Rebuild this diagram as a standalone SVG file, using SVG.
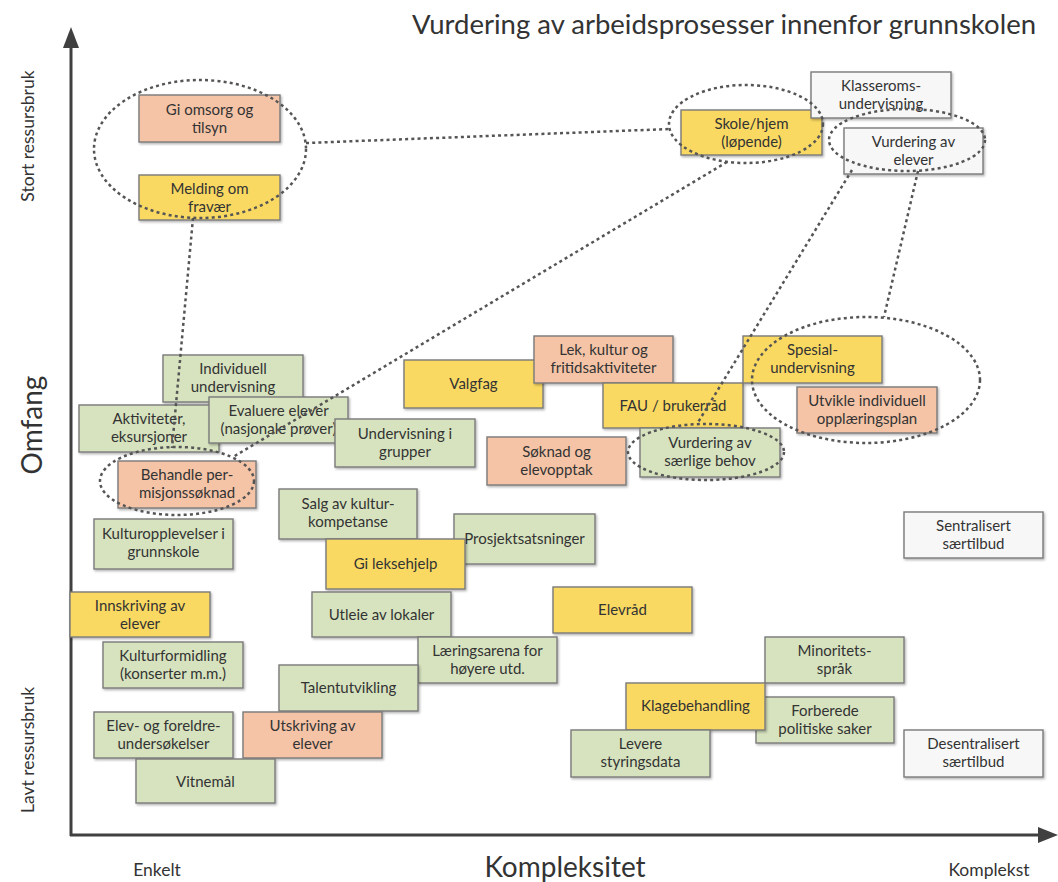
<svg xmlns="http://www.w3.org/2000/svg" width="1058" height="882" viewBox="0 0 1058 882">
  <style>
    text { font-family: Lato, "Open Sans", "Liberation Sans", sans-serif; fill: #333333; }
    .box text { font-size: 15px; text-anchor: middle; }
    .box rect { stroke: #7a7a7a; stroke-width: 1.4; filter: url(#shadow); }
    .orange rect { fill: #f5c4a7; }
    .yellow rect { fill: #fad962; }
    .green rect { fill: #d7e3bf; }
    .white rect { fill: #f7f7f7; }
    .dot { fill: none; stroke: #555555; stroke-width: 2.5; stroke-dasharray: 3 3.2; }
    .axis { stroke: #404040; stroke-width: 3; fill: none; }
    .big { font-size: 28px; }
    .small { font-size: 17.5px; }
  </style>
  <defs>
    <filter id="shadow" x="-10%" y="-10%" width="125%" height="135%">
      <feDropShadow dx="1.2" dy="1.5" stdDeviation="1" flood-color="#000" flood-opacity="0.3"/>
    </filter>
  </defs>

  <rect width="1058" height="882" fill="#ffffff"/>

  <!-- title -->
  <text x="1036" y="34" font-size="27.5" text-anchor="end" fill="#262626">Vurdering av arbeidsprosesser innenfor grunnskolen</text>

  <!-- axes -->
  <g id="axes">
    <line class="axis" x1="71" y1="836" x2="71" y2="44"/>
    <polygon points="71,27 63,48 79,48" fill="#404040"/>
    <line class="axis" x1="70" y1="835" x2="1042" y2="835"/>
    <polygon points="1058,835 1038,827 1038,843" fill="#404040"/>
    <text class="small" transform="translate(34,136) rotate(-90)" text-anchor="middle">Stort ressursbruk</text>
    <text class="big" transform="translate(42,425) rotate(-90)" text-anchor="middle" font-size="31">Omfang</text>
    <text class="small" transform="translate(34,750) rotate(-90)" text-anchor="middle">Lavt ressursbruk</text>
    <text class="small" x="157" y="876" text-anchor="middle">Enkelt</text>
    <text class="big" x="565" y="877" text-anchor="middle">Kompleksitet</text>
    <text class="small" x="989" y="876" text-anchor="middle">Komplekst</text>
  </g>

  <!-- process boxes -->
  <g id="omsorg" class="box orange"><rect x="139" y="95" width="141" height="47"/><text x="209.5" y="115">Gi omsorg og</text><text x="209.5" y="133">tilsyn</text></g>
  <g id="melding" class="box yellow"><rect x="139" y="175" width="141" height="45"/><text x="209.5" y="194">Melding om</text><text x="209.5" y="212">fravær</text></g>
  <g id="skole-hjem" class="box yellow"><rect x="681" y="110" width="141" height="45"/><text x="751.5" y="129">Skole/hjem</text><text x="751.5" y="147">(løpende)</text></g>
  <g id="klasserom" class="box white"><rect x="811" y="72" width="140" height="46"/><text x="881" y="91">Klasseroms-</text><text x="881" y="109">undervisning</text></g>
  <g id="vurdering-elever" class="box white"><rect x="844" y="128" width="139" height="46"/><text x="913.5" y="147">Vurdering av</text><text x="913.5" y="165">elever</text></g>

  <g id="individuell" class="box green"><rect x="163" y="355" width="140" height="47"/><text x="233" y="374">Individuell</text><text x="233" y="392">undervisning</text></g>
  <g id="aktiviteter" class="box green"><rect x="79" y="405" width="140" height="47"/><text x="149" y="424">Aktiviteter,</text><text x="149" y="442">eksursjoner</text></g>
  <g id="evaluere" class="box green"><rect x="209" y="397" width="139" height="46"/><text x="278.5" y="416">Evaluere elever</text><text x="278.5" y="434">(nasjonale prøver)</text></g>
  <g id="behandle" class="box orange"><rect x="118" y="461" width="138" height="47"/><text x="187" y="480">Behandle per-</text><text x="187" y="498">misjonssøknad</text></g>
  <g id="grupper" class="box green"><rect x="335" y="419" width="140" height="48"/><text x="405" y="439">Undervisning i</text><text x="405" y="457">grupper</text></g>
  <g id="valgfag" class="box yellow"><rect x="404" y="360" width="139" height="48"/><text x="473.5" y="389">Valgfag</text></g>
  <g id="lek" class="box orange"><rect x="534" y="336" width="139" height="47"/><text x="603.5" y="355">Lek, kultur og</text><text x="603.5" y="373">fritidsaktiviteter</text></g>
  <g id="soknad" class="box orange"><rect x="487" y="437" width="139" height="48"/><text x="556.5" y="457">Søknad og</text><text x="556.5" y="475">elevopptak</text></g>
  <g id="fau" class="box yellow"><rect x="603" y="383" width="140" height="45"/><text x="673" y="411">FAU / brukerråd</text></g>
  <g id="spesial" class="box yellow"><rect x="743" y="336" width="139" height="47"/><text x="812.5" y="355">Spesial-</text><text x="812.5" y="373">undervisning</text></g>
  <g id="utvikle" class="box orange"><rect x="797" y="387" width="140" height="46"/><text x="867" y="406">Utvikle individuell</text><text x="867" y="424">opplæringsplan</text></g>
  <g id="saerlige-behov" class="box green"><rect x="640" y="428" width="140" height="49"/><text x="710" y="448">Vurdering av</text><text x="710" y="466">særlige behov</text></g>

  <g id="kulturopplevelser" class="box green"><rect x="94" y="519" width="139" height="50"/><text x="163.5" y="539">Kulturopplevelser i</text><text x="163.5" y="557">grunnskole</text></g>
  <g id="salg" class="box green"><rect x="279" y="489" width="138" height="50"/><text x="348" y="509">Salg av kultur-</text><text x="348" y="527">kompetanse</text></g>
  <g id="prosjekt" class="box green"><rect x="454" y="514" width="141" height="50"/><text x="524.5" y="544">Prosjektsatsninger</text></g>
  <g id="leksehjelp" class="box yellow"><rect x="326" y="539" width="139" height="50"/><text x="395.5" y="569">Gi leksehjelp</text></g>
  <g id="sentralisert" class="box white"><rect x="904" y="512" width="139" height="46"/><text x="973.5" y="531">Sentralisert</text><text x="973.5" y="549">særtilbud</text></g>

  <g id="innskriving" class="box yellow"><rect x="70" y="592" width="140" height="45"/><text x="140" y="611">Innskriving av</text><text x="140" y="629">elever</text></g>
  <g id="utleie" class="box green"><rect x="312" y="592" width="139" height="45"/><text x="381.5" y="620">Utleie av lokaler</text></g>
  <g id="elevrad" class="box yellow"><rect x="553" y="587" width="139" height="46"/><text x="622.5" y="615">Elevråd</text></g>
  <g id="kulturformidling" class="box green"><rect x="103" y="642" width="140" height="46"/><text x="173" y="661">Kulturformidling</text><text x="173" y="679">(konserter m.m.)</text></g>
  <g id="laeringsarena" class="box green"><rect x="418" y="637" width="139" height="46"/><text x="487.5" y="656">Læringsarena for</text><text x="487.5" y="674">høyere utd.</text></g>
  <g id="talent" class="box green"><rect x="279" y="665" width="139" height="46"/><text x="348.5" y="693">Talentutvikling</text></g>
  <g id="minoritet" class="box green"><rect x="765" y="637" width="139" height="46"/><text x="834.5" y="656">Minoritets-</text><text x="834.5" y="674">språk</text></g>
  <g id="forberede" class="box green"><rect x="756" y="697" width="138" height="46"/><text x="825" y="716">Forberede</text><text x="825" y="734">politiske saker</text></g>
  <g id="klage" class="box yellow"><rect x="626" y="683" width="139" height="47"/><text x="695.5" y="711">Klagebehandling</text></g>
  <g id="elev-foreldre" class="box green"><rect x="94" y="712" width="139" height="46"/><text x="163.5" y="731">Elev- og foreldre-</text><text x="163.5" y="749">undersøkelser</text></g>
  <g id="utskriving" class="box orange"><rect x="243" y="712" width="139" height="46"/><text x="312.5" y="731">Utskriving av</text><text x="312.5" y="749">elever</text></g>
  <g id="levere" class="box green"><rect x="571" y="730" width="139" height="47"/><text x="640.5" y="749">Levere</text><text x="640.5" y="767">styringsdata</text></g>
  <g id="desentralisert" class="box white"><rect x="904" y="730" width="139" height="47"/><text x="973.5" y="749">Desentralisert</text><text x="973.5" y="767">særtilbud</text></g>
  <g id="vitnemal" class="box green"><rect x="136" y="759" width="139" height="44"/><text x="205.5" y="787">Vitnemål</text></g>

  <!-- dotted cluster outlines -->
  <g id="clusters">
    <ellipse class="dot" cx="200" cy="149" rx="106" ry="69"/>
    <ellipse class="dot" cx="746" cy="124" rx="77" ry="39"/>
    <ellipse class="dot" cx="907" cy="140" rx="78" ry="31"/>
    <ellipse class="dot" cx="177" cy="481" rx="77" ry="34"/>
    <ellipse class="dot" cx="866" cy="380" rx="114" ry="63"/>
    <ellipse class="dot" cx="706" cy="452" rx="78" ry="28"/>
  </g>

  <!-- dotted links between clusters -->
  <g id="connectors">
    <line class="dot" x1="306" y1="143" x2="670" y2="129"/>
    <line class="dot" x1="193" y1="218" x2="172" y2="448"/>
    <line class="dot" x1="727" y1="162" x2="233" y2="457"/>
    <line class="dot" x1="852" y1="170" x2="697" y2="424"/>
    <line class="dot" x1="918" y1="171" x2="884" y2="317"/>
  </g>
</svg>
